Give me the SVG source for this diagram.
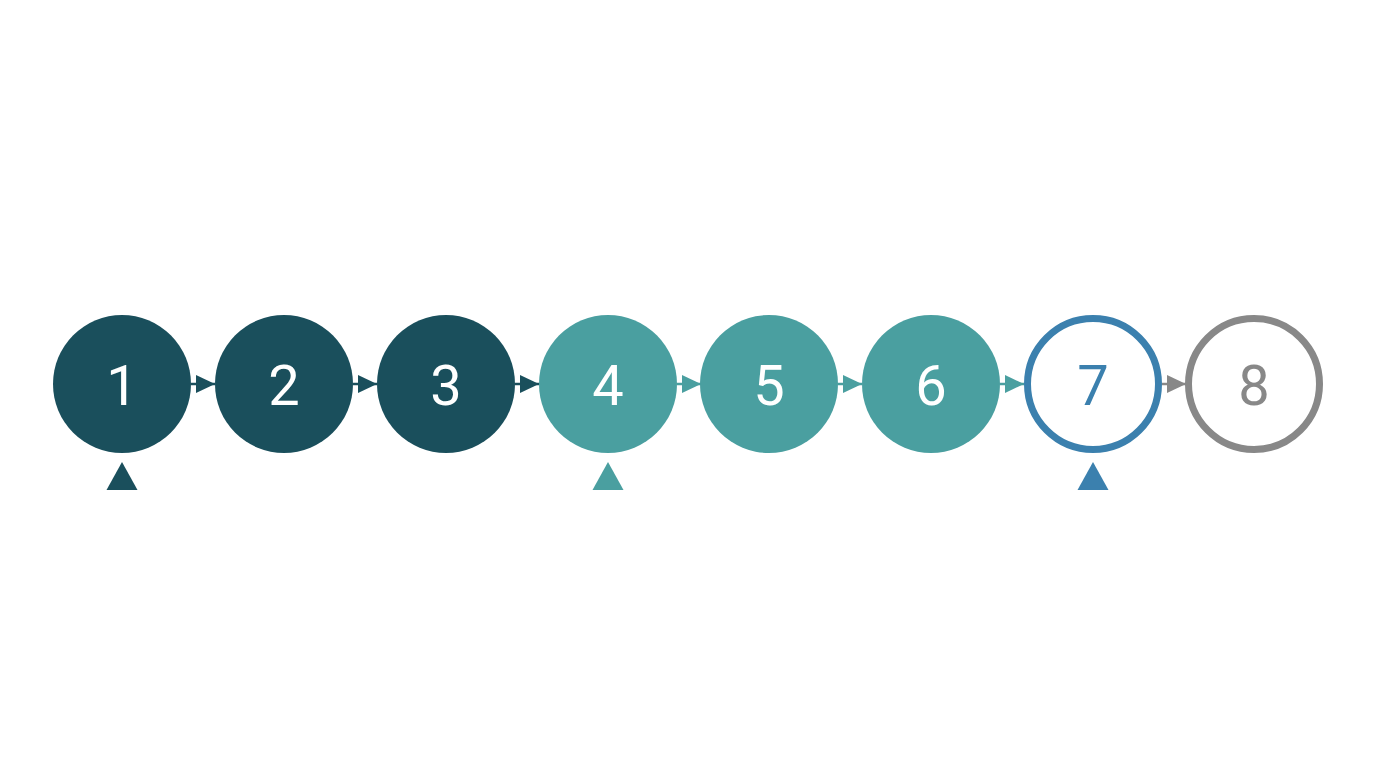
<svg xmlns="http://www.w3.org/2000/svg" width="1376" height="768" viewBox="0 0 1376 768">
<style>
.dk{fill:#1a4f5c}
.tl{fill:#4a9fa0}
.bl{fill:#3b80ae}
.lbl{font-family:Roboto,"Liberation Sans",sans-serif;font-size:56px;text-anchor:middle}
.w{fill:#ffffff}
.con{stroke-width:2.5;fill:none}
</style>
<defs>
<marker id="ad" markerWidth="19" markerHeight="18" refX="19" refY="9" orient="auto" markerUnits="userSpaceOnUse" viewBox="0 0 19 18"><path d="M0,0 L19,9 L0,18 z" fill="#1a4f5c"/></marker>
<marker id="at" markerWidth="19" markerHeight="18" refX="19" refY="9" orient="auto" markerUnits="userSpaceOnUse" viewBox="0 0 19 18"><path d="M0,0 L19,9 L0,18 z" fill="#4a9fa0"/></marker>
<marker id="ag" markerWidth="19" markerHeight="18" refX="19" refY="9" orient="auto" markerUnits="userSpaceOnUse" viewBox="0 0 19 18"><path d="M0,0 L19,9 L0,18 z" fill="#888888"/></marker>
</defs>
<rect width="1376" height="768" fill="#ffffff"/>
<g id="connectors">
<line x1="191" y1="384" x2="215" y2="384" class="con" stroke="#1a4f5c" marker-end="url(#ad)"/>
<line x1="353" y1="384" x2="377" y2="384" class="con" stroke="#1a4f5c" marker-end="url(#ad)"/>
<line x1="515" y1="384" x2="539" y2="384" class="con" stroke="#1a4f5c" marker-end="url(#ad)"/>
<line x1="677" y1="384" x2="701" y2="384" class="con" stroke="#4a9fa0" marker-end="url(#at)"/>
<line x1="838" y1="384" x2="862" y2="384" class="con" stroke="#4a9fa0" marker-end="url(#at)"/>
<line x1="1000" y1="384" x2="1024" y2="384" class="con" stroke="#4a9fa0" marker-end="url(#at)"/>
<line x1="1162" y1="384" x2="1186" y2="384" class="con" stroke="#888888" marker-end="url(#ag)"/>
</g>
<g id="n1"><circle cx="122" cy="384" r="69" class="dk"/><text x="122" y="405" class="lbl w">1</text></g>
<g id="n2"><circle cx="284" cy="384" r="69" class="dk"/><text x="284" y="405" class="lbl w">2</text></g>
<g id="n3"><circle cx="446" cy="384" r="69" class="dk"/><text x="446" y="405" class="lbl w">3</text></g>
<g id="n4"><circle cx="608" cy="384" r="69" class="tl"/><text x="608" y="405" class="lbl w">4</text></g>
<g id="n5"><circle cx="769" cy="384" r="69" class="tl"/><text x="769" y="405" class="lbl w">5</text></g>
<g id="n6"><circle cx="931" cy="384" r="69" class="tl"/><text x="931" y="405" class="lbl w">6</text></g>
<g id="n7"><circle cx="1093" cy="384" r="65.5" fill="#ffffff" stroke="#3b80ae" stroke-width="7"/><text x="1093" y="405" class="lbl" fill="#3b80ae">7</text></g>
<g id="n8"><circle cx="1254" cy="384" r="65.5" fill="#ffffff" stroke="#888888" stroke-width="7"/><text x="1254" y="405" class="lbl" fill="#888888">8</text></g>
<g id="markers">
<polygon points="122,462 137.5,490 106.5,490" class="dk"/>
<polygon points="608,462 623.5,490 592.5,490" class="tl"/>
<polygon points="1093,462 1108.5,490 1077.5,490" class="bl"/>
</g>
</svg>
